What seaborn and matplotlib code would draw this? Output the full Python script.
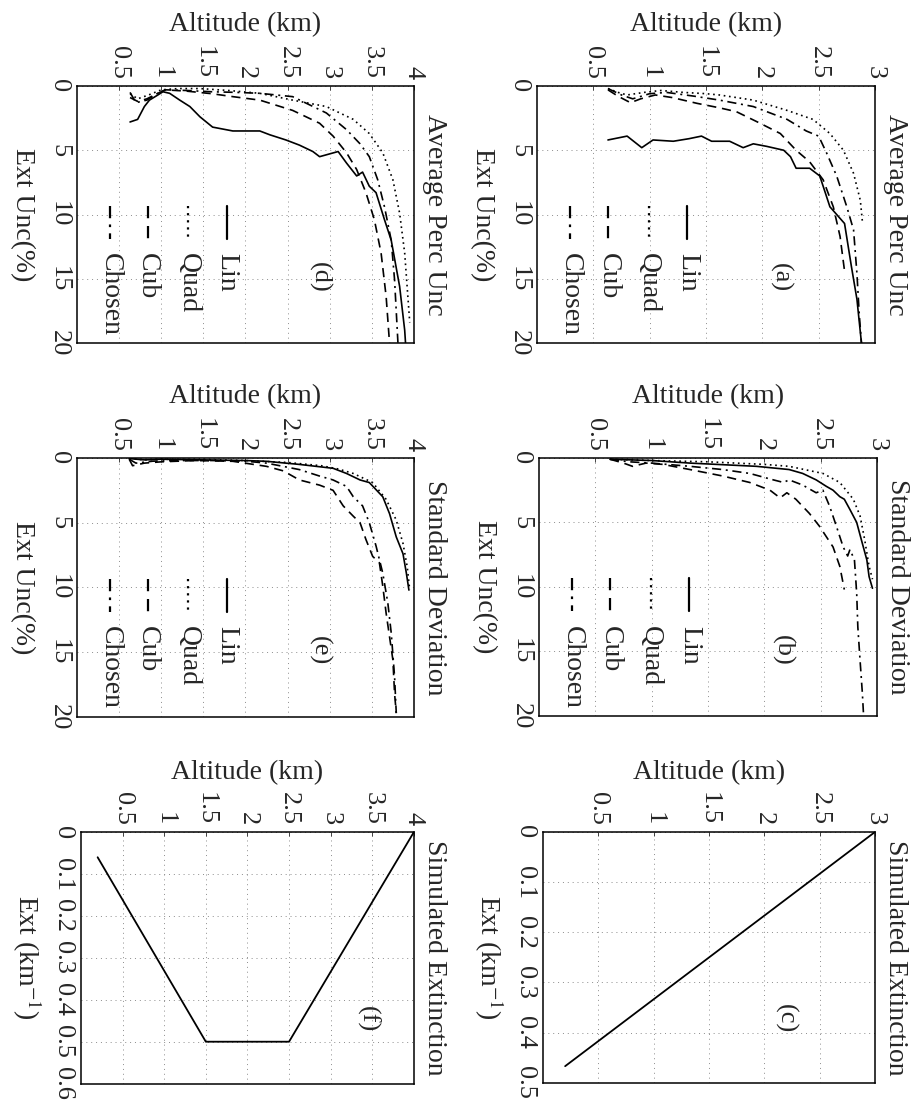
# Extinction uncertainty vs altitude, six panels (page is rotated 90 deg,
# so altitude runs left->right along the top and the uncertainty runs downward)

import numpy as np
import matplotlib
matplotlib.use("Agg")
import matplotlib.pyplot as plt
import seaborn as sns

# ---------------- data ----------------
# (a) Average Perc Unc, 3 km case
a_lin_alt = [0.63, 0.8, 0.93, 1.03, 1.21, 1.35, 1.46, 1.55, 1.71, 1.83, 1.92, 2.04, 2.19, 2.25, 2.3, 2.42, 2.51, 2.6, 2.73, 2.79, 2.84, 2.88]
a_lin_unc = [4.2, 3.9, 4.8, 4.2, 4.3, 4.1, 3.9, 4.3, 4.3, 4.8, 4.5, 4.7, 5.0, 5.5, 6.4, 6.4, 7.0, 9.4, 10.7, 14.0, 16.6, 20.0]
a_quad_alt = [0.63, 0.72, 0.8, 0.95, 1.1, 1.3, 1.5, 1.62, 1.92, 2.22, 2.45, 2.6, 2.72, 2.81, 2.87, 2.89]
a_quad_unc = [0.2, 0.5, 0.7, 0.5, 0.35, 0.5, 0.6, 0.7, 1.1, 1.9, 2.6, 3.7, 5.0, 6.8, 8.9, 10.7]
a_cub_alt = [0.63, 0.72, 0.83, 0.92, 1.05, 1.2, 1.42, 1.62, 1.77, 1.98, 2.16, 2.3, 2.42, 2.54, 2.63, 2.69, 2.73]
a_cub_unc = [0.3, 0.8, 1.3, 1.0, 0.7, 0.9, 1.35, 1.7, 2.0, 2.9, 3.7, 5.0, 5.9, 7.3, 9.4, 11.7, 14.4]
a_cho_alt = [0.63, 0.75, 0.85, 1.0, 1.15, 1.4, 1.62, 1.92, 2.22, 2.39, 2.5, 2.57, 2.66, 2.75, 2.81, 2.84, 2.86, 2.88]
a_cho_unc = [0.2, 0.7, 1.0, 0.6, 0.5, 0.8, 1.1, 1.6, 2.6, 3.5, 3.9, 5.2, 7.0, 9.4, 11.2, 14.6, 17.7, 20.0]

# (b) Standard Deviation, 3 km case
b_lin_alt = [0.63, 1.0, 1.34, 1.93, 2.22, 2.34, 2.46, 2.55, 2.61, 2.67, 2.71, 2.76, 2.82, 2.86, 2.91, 2.93, 2.96]
b_lin_unc = [0.1, 0.2, 0.4, 0.65, 0.9, 1.2, 1.7, 2.2, 2.5, 3.0, 3.2, 4.0, 5.0, 6.3, 7.9, 9.2, 10.1]
b_quad_alt = [0.63, 1.0, 1.5, 2.0, 2.22, 2.52, 2.67, 2.79, 2.85, 2.89, 2.93, 2.96]
b_quad_unc = [0.1, 0.2, 0.3, 0.5, 0.65, 1.2, 1.9, 3.2, 4.5, 6.3, 8.4, 9.4]
b_cub_alt = [0.63, 0.75, 0.83, 0.95, 1.1, 1.34, 1.63, 1.87, 2.05, 2.14, 2.2, 2.28, 2.4, 2.49, 2.55, 2.61, 2.67, 2.71]
b_cub_unc = [0.1, 0.4, 0.65, 0.4, 0.5, 0.9, 1.4, 1.9, 2.5, 3.1, 2.7, 3.2, 4.3, 5.3, 6.1, 6.9, 8.4, 10.2]
b_cho_alt = [0.63, 0.8, 1.0, 1.34, 1.63, 1.87, 2.08, 2.17, 2.22, 2.34, 2.46, 2.52, 2.58, 2.64, 2.7, 2.74, 2.76, 2.8, 2.82, 2.83, 2.85, 2.87, 2.88]
b_cho_unc = [0.1, 0.3, 0.4, 0.65, 0.9, 1.2, 1.7, 1.9, 1.7, 2.1, 2.7, 2.5, 3.75, 5.3, 6.9, 7.6, 7.1, 7.9, 10.5, 13.1, 15.7, 18.2, 19.8]

# (d) Average Perc Unc, 4 km case
d_lin_alt = [0.63, 0.72, 0.8, 0.86, 0.96, 1.02, 1.1, 1.22, 1.34, 1.46, 1.61, 1.85, 2.17, 2.29, 2.48, 2.64, 2.8, 2.88, 3.1, 3.2, 3.32, 3.39, 3.47, 3.55, 3.65, 3.73, 3.83, 3.89, 3.9]
d_lin_unc = [2.8, 2.6, 1.6, 1.1, 0.7, 0.45, 0.57, 1.1, 1.6, 2.4, 3.2, 3.5, 3.5, 3.8, 4.2, 4.6, 5.1, 5.5, 5.1, 6.0, 7.0, 6.7, 7.8, 8.3, 10.4, 12.0, 15.6, 19.0, 20.0]
d_quad_alt = [0.63, 0.72, 0.85, 1.0, 1.2, 1.46, 1.8, 2.17, 2.56, 2.96, 3.28, 3.47, 3.63, 3.75, 3.83, 3.89, 3.93, 3.95]
d_quad_unc = [0.6, 1.0, 0.7, 0.3, 0.2, 0.2, 0.35, 0.57, 1.1, 1.6, 2.6, 3.7, 5.2, 7.3, 9.9, 13.0, 16.6, 18.4]
d_cub_alt = [0.63, 0.72, 0.83, 0.95, 1.05, 1.3, 1.6, 1.85, 2.17, 2.56, 2.88, 3.04, 3.2, 3.32, 3.43, 3.53, 3.61, 3.67, 3.71]
d_cub_unc = [0.9, 1.2, 1.0, 0.6, 0.3, 0.4, 0.6, 0.83, 1.1, 1.9, 2.9, 3.9, 5.2, 6.5, 8.3, 10.4, 13.0, 16.4, 20.0]
d_cho_alt = [0.63, 0.7, 0.83, 0.95, 1.05, 1.3, 1.6, 1.9, 2.17, 2.56, 2.96, 3.2, 3.36, 3.47, 3.57, 3.65, 3.73, 3.77, 3.81]
d_cho_unc = [0.5, 1.3, 1.1, 0.6, 0.3, 0.35, 0.45, 0.5, 0.57, 0.83, 2.1, 3.4, 4.5, 5.5, 7.3, 9.4, 12.0, 15.1, 20.0]

# (e) Standard Deviation, 4 km case
e_lin_alt = [0.62, 0.8, 1.0, 1.5, 2.0, 2.25, 2.64, 3.04, 3.2, 3.36, 3.47, 3.63, 3.71, 3.79, 3.87, 3.91, 3.94]
e_lin_unc = [0.05, 0.15, 0.1, 0.15, 0.2, 0.26, 0.5, 0.8, 1.2, 1.7, 1.9, 3.0, 4.3, 6.1, 7.4, 8.9, 10.2]
e_quad_alt = [0.62, 0.8, 1.0, 1.5, 2.0, 2.5, 2.9, 3.1, 3.28, 3.51, 3.67, 3.79, 3.87, 3.92, 3.95]
e_quad_unc = [0.05, 0.15, 0.1, 0.12, 0.2, 0.35, 0.6, 0.85, 1.2, 1.9, 3.2, 4.8, 6.6, 8.4, 10.2]
e_cub_alt = [0.62, 0.66, 0.8, 1.0, 1.4, 1.85, 2.25, 2.45, 2.64, 2.88, 3.04, 3.16, 3.28, 3.36, 3.43, 3.51, 3.59, 3.63, 3.67, 3.71, 3.75, 3.77, 3.79]
e_cub_unc = [0.1, 0.6, 0.4, 0.3, 0.2, 0.26, 0.65, 1.0, 1.7, 2.1, 2.5, 3.7, 4.5, 5.0, 6.3, 7.6, 8.1, 9.9, 12.0, 13.8, 15.6, 18.2, 19.7]
e_cho_alt = [0.62, 0.7, 0.9, 1.2, 1.6, 2.0, 2.25, 2.64, 2.88, 3.04, 3.2, 3.28, 3.39, 3.47, 3.55, 3.63, 3.69, 3.73, 3.77, 3.79]
e_cho_unc = [0.1, 0.4, 0.25, 0.2, 0.2, 0.25, 0.4, 0.9, 1.4, 1.7, 2.2, 3.0, 3.7, 5.0, 6.8, 8.9, 11.2, 13.5, 16.9, 19.7]

# (c), (f) simulated extinction profiles
c_alt = [0.2, 3.0]
c_ext = [0.467, 0.0]
f_alt = [0.2, 1.5, 2.5, 4.0]
f_ext = [0.06, 0.5, 0.5, 0.0]

series_names = ["Lin", "Quad", "Cub", "Chosen"]

# ---------------- styling ----------------
sns.set_style("white")
plt.rcParams["font.family"] = ["Liberation Serif", "DejaVu Serif"]
plt.rcParams["mathtext.fontset"] = "stix"

FS = 19
line_styles = {
    "Lin": "-",
    "Quad": (0, (1, 2.2)),
    "Cub": (0, (5.5, 3.5)),
    "Chosen": (0, (5.5, 2.8, 1.2, 2.8)),
}

fig = plt.figure(figsize=(9.12, 11.08), dpi=100)


def fmt(v):
    return "%g" % round(v, 2)


def setup(ax, xmax, ymax, ystep, title, ylabel, letter, letter_x=0.72):
    xt = np.arange(0.5, xmax + 0.01, 0.5)
    yt = np.arange(0, ymax + ystep / 2, ystep)
    ax.set_xlim(0, xmax)
    ax.set_ylim(ymax, 0)
    ax.xaxis.tick_top()
    ax.set_xticks(xt, [fmt(v) for v in xt], rotation=-90, ha="center", va="bottom", fontsize=FS)
    ax.set_yticks(yt, [fmt(v) for v in yt], rotation=-90, ha="right", va="center", fontsize=FS)
    ax.tick_params(axis="both", direction="in", length=3, width=0.6, pad=5)
    ax.tick_params(axis="x", top=True, bottom=False, labeltop=True, labelbottom=False)
    ax.set_xlabel("")
    ax.set_ylabel("")
    ax.grid(True, color="0.55", linestyle=(0, (1, 4)), linewidth=0.7)
    for s in ax.spines.values():
        s.set_color("black")
        s.set_linewidth(1.1)
    ax.text(0.5, 1.238, "Altitude (km)", ha="center", va="center", fontsize=FS + 1, transform=ax.transAxes)
    ax.text(-0.163, 0.5, ylabel, rotation=-90, ha="center", va="center", fontsize=FS + 1, transform=ax.transAxes)
    ax.text(1.062, 0.5, title, rotation=-90, ha="center", va="center", fontsize=FS + 1, transform=ax.transAxes)
    ax.text(letter_x, 0.255, letter, rotation=-90, ha="center", va="center", fontsize=FS, transform=ax.transAxes)


def unc_panel(rect, data, xmax, title, letter):
    ax = fig.add_axes(rect)
    for name, (alt, unc) in zip(series_names, data):
        sns.lineplot(x=alt, y=unc, ax=ax, sort=False, estimator=None, color="black",
                     linewidth=1.2, linestyle=line_styles[name])
    setup(ax, xmax, 20, 5, title, "Ext Unc(%)", letter)
    # legend drawn by hand so it can be turned with the page
    for xpos, name in zip([0.445, 0.33, 0.21, 0.098], series_names):
        ax.plot([xpos, xpos], [0.533, 0.405], transform=ax.transAxes, color="black",
                linewidth=1.6, linestyle=line_styles[name])
        ax.text(xpos, 0.35, name, rotation=-90, ha="center", va="top", fontsize=FS + 1,
                transform=ax.transAxes)
    return ax


def ext_panel(rect, alt, ext, xmax, ymax, letter, letter_x):
    ax = fig.add_axes(rect)
    sns.lineplot(x=alt, y=ext, ax=ax, sort=False, estimator=None, color="black", linewidth=1.3)
    setup(ax, xmax, ymax, 0.1, "Simulated Extinction", "Ext (km$^{-1}$)", letter, letter_x)
    return ax


# left column (4 km cases), right column (3 km cases)
unc_panel([0.0844, 0.6904, 0.3695, 0.232],
          [(d_lin_alt, d_lin_unc), (d_quad_alt, d_quad_unc), (d_cub_alt, d_cub_unc), (d_cho_alt, d_cho_unc)],
          4, "Average Perc Unc", "(d)")
unc_panel([0.5888, 0.6904, 0.3706, 0.232],
          [(a_lin_alt, a_lin_unc), (a_quad_alt, a_quad_unc), (a_cub_alt, a_cub_unc), (a_cho_alt, a_cho_unc)],
          3, "Average Perc Unc", "(a)")
unc_panel([0.0844, 0.3529, 0.3695, 0.2338],
          [(e_lin_alt, e_lin_unc), (e_quad_alt, e_quad_unc), (e_cub_alt, e_cub_unc), (e_cho_alt, e_cho_unc)],
          4, "Standard Deviation", "(e)")
unc_panel([0.591, 0.3538, 0.3706, 0.2329],
          [(b_lin_alt, b_lin_unc), (b_quad_alt, b_quad_unc), (b_cub_alt, b_cub_unc), (b_cho_alt, b_cho_unc)],
          3, "Standard Deviation", "(b)")
ext_panel([0.0888, 0.022, 0.365, 0.227], f_alt, f_ext, 4, 0.6, "(f)", 0.862)
ext_panel([0.5954, 0.0228, 0.364, 0.2263], c_alt, c_ext, 3, 0.5, "(c)", 0.73)

fig.savefig("out.png", dpi=100, facecolor="white")
